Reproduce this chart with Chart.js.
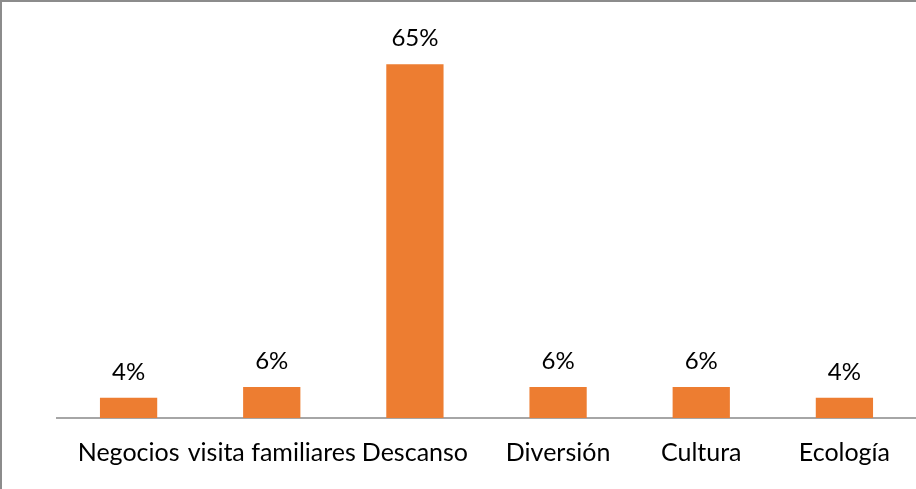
<!DOCTYPE html>
<html>
<head>
<meta charset="utf-8">
<script src="https://cdn.jsdelivr.net/npm/chart.js@4/dist/chart.umd.min.js"></script>
<style>
    html, body { margin: 0; padding: 0; background: #fff; }
    .frame {
        width: 914px;
        height: 487px;
        border-top: 2px solid #8c8c8c;
        border-left: 2px solid #8c8c8c;
        position: relative;
    }
    #motivosChart { display: block; }
</style>
</head>
<body>
<div class="frame">
    <canvas id="motivosChart" width="914" height="487"></canvas>
</div>
<script>
/* ── Data ── */
const categories = ['Negocios', 'visita familiares', 'Descanso', 'Diversión', 'Cultura', 'Ecología'];
const percentages = [3.7, 5.7, 65, 5.7, 5.7, 3.7];
const barColor = '#ED7D31';
const fontFamily = "Lato, 'Open Sans', sans-serif";

/* Value labels above each bar */
const valueLabels = {
    id: 'valueLabels',
    afterDatasetsDraw(chart) {
        const ctx = chart.ctx;
        const meta = chart.getDatasetMeta(0);
        ctx.save();
        ctx.font = '24px ' + fontFamily;
        ctx.fillStyle = '#000';
        ctx.textAlign = 'center';
        ctx.textBaseline = 'middle';
        meta.data.forEach((bar, i) => {
            const v = chart.data.datasets[0].data[i];
            ctx.fillText(Math.round(v) + '%', bar.x, bar.y - 26);
        });
        ctx.restore();
    }
};

function initChart() {
    const ctx = document.getElementById('motivosChart');
    if (!ctx) return;

    new Chart(ctx, {
        type: 'bar',
        data: {
            labels: categories,
            datasets: [{
                data: percentages,
                backgroundColor: barColor,
                borderWidth: 0,
                categoryPercentage: 1,
                barPercentage: 0.4,
            }]
        },
        options: {
            responsive: false,
            animation: false,
            layout: {
                padding: { left: 55, right: 0, top: 35, bottom: 0 }
            },
            plugins: {
                legend: { display: false },
                tooltip: { enabled: false }
            },
            scales: {
                x: {
                    grid: { display: false },
                    border: { display: true, color: '#a6a6a6', width: 2 },
                    ticks: {
                        color: '#000',
                        padding: 12,
                        maxRotation: 0,
                        autoSkip: false,
                        font: { family: fontFamily, size: 25 }
                    },
                    afterFit(scale) { scale.height = 71; }
                },
                y: {
                    display: false,
                    min: 0,
                    max: 70
                }
            }
        },
        plugins: [valueLabels]
    });
}

initChart();
</script>
</body>
</html>
